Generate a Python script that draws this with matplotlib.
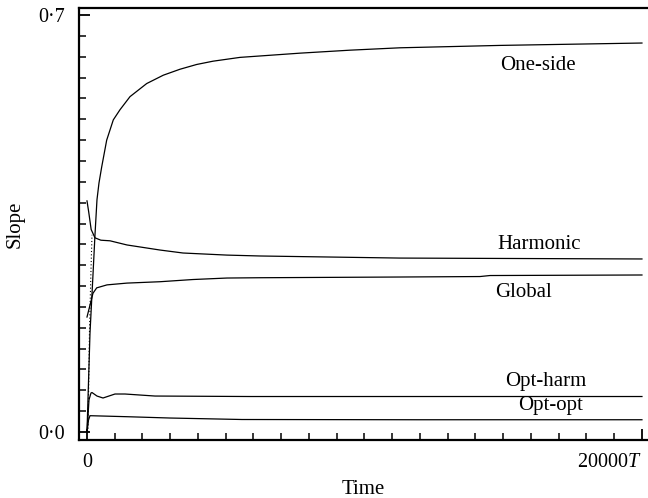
import numpy as np
import matplotlib
matplotlib.use("Agg")
import matplotlib.pyplot as plt
from matplotlib.ticker import MultipleLocator, FixedLocator

# Courbes (temps, pente)
one_side_t = [0, 108, 216, 288, 360, 432, 530, 710, 948, 1189, 1550, 2152, 2750,
              3352, 3953, 4541, 5514, 7677, 9479, 11281, 14884, 20000]
one_side_v = [0.0, 0.166, 0.264, 0.331, 0.390, 0.418, 0.445, 0.490, 0.524, 0.541, 0.563, 0.585, 0.599,
              0.609, 0.617, 0.6225, 0.6289, 0.636, 0.641, 0.645, 0.649, 0.653]

harmonic_t = [0, 60, 150, 288, 500, 829, 1442, 2631, 3460, 5045, 6235, 11281, 20000]
harmonic_v = [0.388, 0.370, 0.340, 0.326, 0.322, 0.321, 0.314, 0.3055, 0.3005, 0.297, 0.2955, 0.292, 0.2905]

global_t = [0, 108, 216, 350, 721, 1442, 2631, 3820, 5045, 6235, 11281, 14164, 14524, 20000]
global_v = [0.193, 0.213, 0.233, 0.242, 0.247, 0.250, 0.2523, 0.256, 0.2585, 0.259, 0.2602, 0.261, 0.2627, 0.2636]

opt_harm_t = [0, 72, 144, 180, 360, 577, 1009, 1370, 2451, 5875, 20000]
opt_harm_v = [0.0, 0.054, 0.0655, 0.0663, 0.0604, 0.0571, 0.0638, 0.0638, 0.0604, 0.0596, 0.0596]

opt_opt_t = [0, 54, 108, 1442, 2991, 5586, 11893, 20000]
opt_opt_v = [0.0, 0.020, 0.0274, 0.0257, 0.0235, 0.021, 0.0206, 0.0206]

# transitoire en pointillés au début
dotted_t = [36, 54, 90, 144, 180]
dotted_v = [0.0, 0.054, 0.171, 0.272, 0.331]

labels = ["One-side", "Harmonic", "Global", "Opt-harm", "Opt-opt"]
label_t = [14884, 14776, 14705, 15065, 15533]
label_v = [0.616, 0.314, 0.235, 0.0856, 0.0453]

plt.rcParams['font.family'] = ['Liberation Serif', 'DejaVu Serif']
plt.rcParams['mathtext.fontset'] = 'custom'
plt.rcParams['mathtext.rm'] = 'Liberation Serif'
plt.rcParams['mathtext.it'] = 'Liberation Serif:italic'

fig = plt.figure(figsize=(6.48, 4.98), dpi=100)
ax = fig.add_axes([79 / 648, 1 - 440 / 498, (647 - 79) / 648, (440 - 8) / 498])

for t, v in [(one_side_t, one_side_v), (harmonic_t, harmonic_v), (global_t, global_v),
             (opt_harm_t, opt_harm_v), (opt_opt_t, opt_opt_v)]:
    ax.plot(t, v, color='black', lw=0.9)
ax.plot(dotted_t, dotted_v, color='black', lw=0.8, linestyle=(0, (1, 2)))

for lab, t, v in zip(labels, label_t, label_v):
    ax.text(t, v, lab, fontsize=15, va='center', ha='left')

ax.set_xlim(-288, 20182)
ax.set_ylim(-0.0134, 0.7118)

ax.xaxis.set_major_locator(FixedLocator([0, 20000]))
ax.xaxis.set_minor_locator(MultipleLocator(1000))
ax.yaxis.set_major_locator(FixedLocator([0.0, 0.7]))
ax.yaxis.set_minor_locator(MultipleLocator(0.035))
ax.set_xticklabels(["0", "20000$T$"], fontsize=14.5)
ax.set_yticklabels(["0·0", "0·7"], fontsize=14.5)
ax.get_xticklabels()[1].set_ha('right')

ax.tick_params(which='major', direction='in', length=8, width=1.3, pad=10)
ax.tick_params(which='minor', direction='in', length=5, width=1.1)
ax.tick_params(axis='x', which='major', pad=9)

ax.spines['right'].set_visible(False)
for s in ['left', 'bottom', 'top']:
    ax.spines[s].set_linewidth(1.6)

ax.set_xlabel("Time", fontsize=15, labelpad=6)
ax.set_ylabel("Slope", fontsize=15, labelpad=10)

fig.savefig("out.png", dpi=100)
